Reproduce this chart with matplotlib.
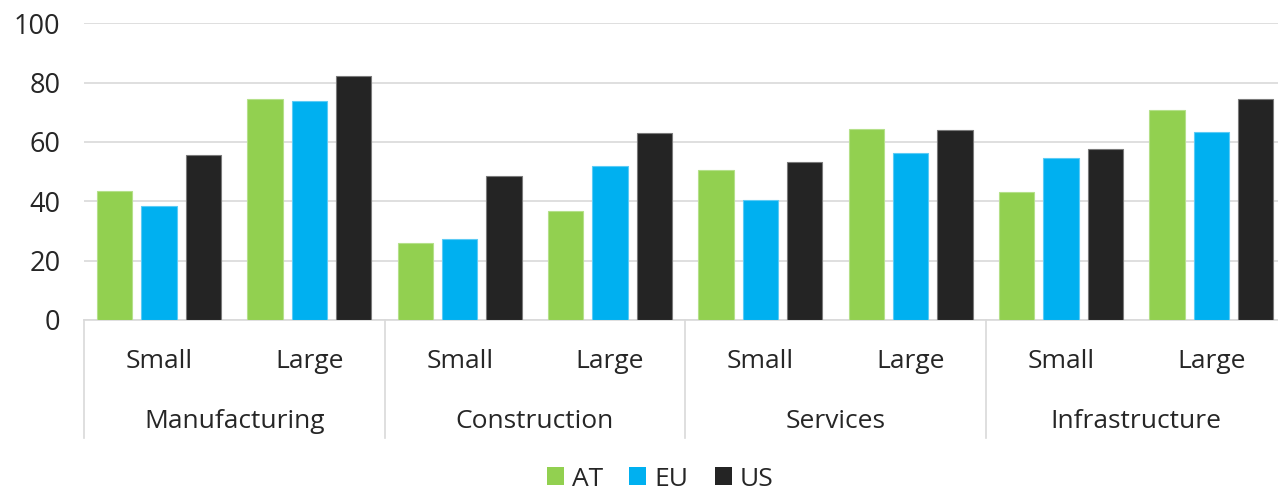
import numpy as np
import matplotlib
matplotlib.use("Agg")
import matplotlib.pyplot as plt
from matplotlib.patches import Patch
from matplotlib.transforms import blended_transform_factory

plt.rcParams["font.family"] = ["Open Sans", "DejaVu Sans"]

sectors = ["Manufacturing", "Construction", "Services", "Infrastructure"]
sizes = ["Small", "Large"]
series = ["AT", "EU", "US"]
colors = {"AT": "#92D050", "EU": "#00B0F0", "US": "#242424"}
edges = {"AT": "#b5e08a", "EU": "#5ccbf5", "US": "#7a7a7a"}

# order: Manufacturing Small, Large, Construction Small, Large, ...
at = [43.6, 74.5, 26.0, 36.7, 50.7, 64.4, 43.3, 70.7]
eu = [38.3, 73.8, 27.2, 51.9, 40.4, 56.2, 54.5, 63.4]
us = [55.7, 82.3, 48.4, 63.1, 53.1, 64.2, 57.8, 74.6]
values = {"AT": at, "EU": eu, "US": us}

W, H = 1278, 493
fig = plt.figure(figsize=(W / 100, H / 100), dpi=100)
x0, x1 = 84, 1278
y_top, y_bot = 23.3, 320
ax = fig.add_axes([x0 / W, 1 - y_bot / H, (x1 - x0) / W, (y_bot - y_top) / H])

slot = 150.3
xs = np.arange(len(at)) + 0.5
bw = 0.235
step = 0.295
for k, s in enumerate(series):
    ax.bar(xs + (k - 1) * step, values[s], width=bw, color=colors[s],
           edgecolor=edges[s], linewidth=0.8, zorder=3)

ax.set_xlim(0, (x1 - x0) / slot)
ax.set_ylim(0, 100)
ax.set_yticks([0, 20, 40, 60, 80, 100])
ax.yaxis.grid(True, color="#d9d9d9", linewidth=1.2)
ax.set_axisbelow(True)
ax.set_xticks([])
ax.tick_params(axis="y", length=0, pad=17, labelsize=19.5, labelcolor="#262626")
for sp in ["top", "right", "left"]:
    ax.spines[sp].set_visible(False)
ax.spines["bottom"].set_color("#d9d9d9")
ax.spines["bottom"].set_linewidth(1.2)

tr = blended_transform_factory(ax.transData, ax.transAxes)
ph = y_bot - y_top
sep_end = -(438 - y_bot) / ph
for i in range(len(sectors) + 1):
    ax.plot([2 * i, 2 * i], [0, sep_end], transform=tr, color="#d9d9d9",
            linewidth=1.2, clip_on=False)
for i, x in enumerate(xs):
    ax.text(x, -(362 - y_bot) / ph, sizes[i % 2], transform=tr, ha="center",
            va="center", fontsize=19, color="#262626")
for i, sec in enumerate(sectors):
    ax.text(2 * i + 1, -(421 - y_bot) / ph, sec, transform=tr, ha="center",
            va="center", fontsize=19, color="#262626")

handles = [Patch(facecolor=colors[s], edgecolor="none", label=s) for s in series]
fig.legend(handles=handles, loc="center", bbox_to_anchor=(660 / W, 1 - 479 / H),
           ncol=3, frameon=False, fontsize=19, handlelength=0.65, handleheight=0.65,
           handletextpad=0.3, columnspacing=1.0, labelcolor="#262626")

fig.savefig("out.png", dpi=100)
